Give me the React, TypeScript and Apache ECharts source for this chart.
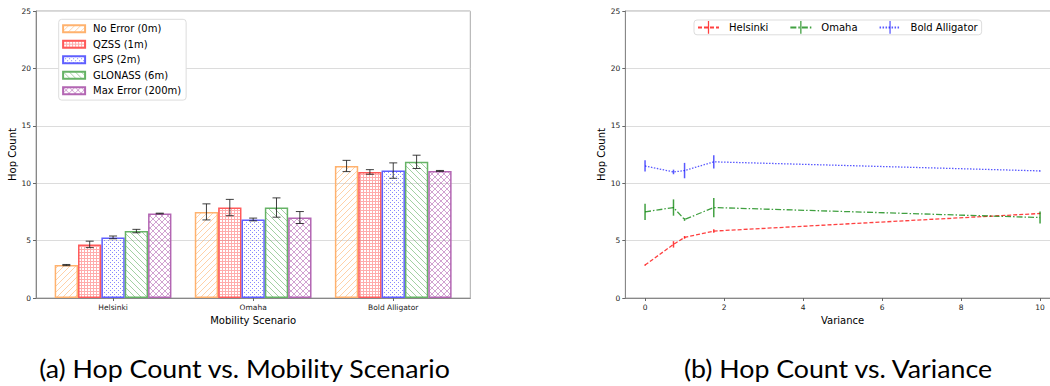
import React, { useEffect, useRef } from 'react';
import * as echarts from 'echarts';

// ---- data ----
const categories = ['Helsinki', 'Omaha', 'Bold Alligator'];
const errorLevels = ['No Error (0m)', 'QZSS (1m)', 'GPS (2m)', 'GLONASS (6m)', 'Max Error (200m)'];
const variance = [0, 0.72, 1, 1.74, 10];

const hopHelsinki = [2.87, 4.67, 5.28, 5.83, 7.36];
const hopOmaha = [7.5, 7.88, 6.84, 7.88, 7.01];
const hopBold = [11.5, 10.98, 11.1, 11.86, 11.07];

const errHelsinki = [0.05, 0.28, 0.12, 0.15, 0.03];
const errOmaha = [0.7, 0.71, 0.12, 0.84, 0.52];
const errBold = [0.49, 0.2, 0.67, 0.58, 0.04];

const yTicks = [0, 5, 10, 15, 20, 25];
const categoryTicks = [0, 1, 2];
const varianceTicks = [0, 2, 4, 6, 8, 10];

const captionA = '(a) Hop Count vs. Mobility Scenario';
const captionB = '(b) Hop Count vs. Variance';

// ---- styles ----
const barColors = ['rgb(255,178,110)', 'rgb(255,90,90)', 'rgb(95,95,255)', 'rgb(102,179,102)', 'rgb(179,102,179)'];
const hatchKinds = ['diagUp', 'grid', 'dots', 'diagDown', 'cross'];
const lineColors = ['rgba(255,0,0,0.75)', 'rgba(0,128,0,0.75)', 'rgba(0,0,255,0.65)'];
const lineDash = [[4, 2], [6, 2, 1.5, 2], [1.5, 1.5]];
const FONT = 'DejaVu Sans';

function makeHatch(kind: string, color: string) {
  const S = kind === 'grid' ? 3 : kind === 'dots' ? 4 : 6;
  const c = document.createElement('canvas');
  c.width = S;
  c.height = S;
  const ctx = c.getContext('2d')!;
  ctx.strokeStyle = color;
  ctx.fillStyle = color;
  ctx.lineWidth = 1;
  ctx.globalAlpha = 0.6;
  const up = () => {
    ctx.beginPath();
    ctx.moveTo(-1, S + 1); ctx.lineTo(S + 1, -1);
    ctx.moveTo(-1, 1); ctx.lineTo(1, -1);
    ctx.moveTo(S - 1, S + 1); ctx.lineTo(S + 1, S - 1);
    ctx.stroke();
  };
  const down = () => {
    ctx.beginPath();
    ctx.moveTo(-1, -1); ctx.lineTo(S + 1, S + 1);
    ctx.moveTo(S - 1, -1); ctx.lineTo(S + 1, 1);
    ctx.moveTo(-1, S - 1); ctx.lineTo(1, S + 1);
    ctx.stroke();
  };
  if (kind === 'diagUp') up();
  else if (kind === 'diagDown') down();
  else if (kind === 'cross') { up(); down(); }
  else if (kind === 'grid') {
    ctx.globalAlpha = 0.5;
    ctx.fillRect(0, 0, S, 1);
    ctx.fillRect(0, 1, 1, S - 1);
  } else if (kind === 'dots') {
    ctx.globalAlpha = 0.75;
    ctx.fillRect(0, 0, 1, 1);
    ctx.fillRect(2, 2, 1, 1);
  }
  return { image: c.toDataURL(), repeat: 'repeat', imageWidth: S, imageHeight: S };
}

const vbarSymbol = 'path://M0,0H0.01V0.01H0Z M4.5,0H5.5V10H4.5Z M9.99,9.99H10V10H9.99Z';

export default function App() {
  const ref = useRef<HTMLDivElement>(null);
  useEffect(() => {
    document.body.style.margin = '0';
    const chart = echarts.init(ref.current!, undefined, { renderer: 'svg' });
    const hops = [hopHelsinki, hopOmaha, hopBold];
    const errs = [errHelsinki, errOmaha, errBold];

    const axisLine = { show: true, onZero: false, lineStyle: { color: '#888', width: 1 } };
    const axisTick = { show: true, length: 3, lineStyle: { color: '#666' } };
    const splitLine = { show: true, lineStyle: { color: '#dcdcdc', width: 1 } };
    const tickLabel = { fontSize: 7.5, color: '#222', fontFamily: FONT, margin: 5 };
    const yAxisBase = {
      type: 'value', min: 0, max: 25, interval: 5,
      axisLine, axisTick, splitLine,
      name: 'Hop Count', nameLocation: 'middle', nameGap: 17,
      nameTextStyle: { fontSize: 10, color: '#000', fontFamily: FONT },
    };

    const barSeries = errorLevels.map((name, i) => ({
      type: 'bar', name, xAxisIndex: 0, yAxisIndex: 0,
      data: categories.map((_, j) => [j, hops[j][i]]),
      barWidth: '16.6667%', barGap: '0%',
      itemStyle: { color: makeHatch(hatchKinds[i], barColors[i]), borderColor: barColors[i], borderWidth: 1.5 },
      emphasis: { disabled: true },
    }));

    const errData: number[][] = [];
    categories.forEach((_, j) => errorLevels.forEach((__, i) => errData.push([j, i, hops[j][i], errs[j][i]])));

    const barErr = {
      type: 'custom', name: 'bar-errors', xAxisIndex: 0, yAxisIndex: 0, z: 5,
      encode: { x: 0, y: 2 },
      data: errData,
      renderItem: (params: any, api: any) => {
        const cat = api.value(0), idx = api.value(1), mean = api.value(2), err = api.value(3);
        const bw = api.size([1 / 6, 0])[0];
        const top = api.coord([cat, mean + err]);
        const bot = api.coord([cat, mean - err]);
        const x = top[0] + (idx - 2) * bw;
        const style = { stroke: 'rgba(30,30,30,0.85)', lineWidth: 1 };
        return {
          type: 'group', children: [
            { type: 'line', shape: { x1: x, y1: top[1], x2: x, y2: bot[1] }, style },
            { type: 'line', shape: { x1: x - 4, y1: top[1], x2: x + 4, y2: top[1] }, style },
            { type: 'line', shape: { x1: x - 4, y1: bot[1], x2: x + 4, y2: bot[1] }, style },
          ],
        };
      },
    };

    const lineSeries: any[] = [];
    const lineErrSeries: any[] = [];
    categories.forEach((name, j) => {
      lineSeries.push({
        type: 'line', name, xAxisIndex: 1, yAxisIndex: 1,
        data: variance.map((v, i) => [v, hops[j][i]]),
        showSymbol: false, symbol: vbarSymbol, symbolSize: 12,
        lineStyle: { color: lineColors[j], width: 1.3, type: lineDash[j] },
        itemStyle: { color: lineColors[j] },
        emphasis: { disabled: true },
      });
      lineErrSeries.push({
        type: 'custom', name: name + '-errors', xAxisIndex: 1, yAxisIndex: 1, z: 5,
        encode: { x: 0, y: 1 },
        data: variance.map((v, i) => [v, hops[j][i], errs[j][i]]),
        renderItem: (params: any, api: any) => {
          const x = api.value(0), mean = api.value(1), err = api.value(2);
          const top = api.coord([x, mean + err]);
          const bot = api.coord([x, mean - err]);
          return {
            type: 'line',
            shape: { x1: top[0], y1: top[1], x2: bot[0], y2: bot[1] },
            style: { stroke: lineColors[j], lineWidth: 1.5 },
          };
        },
      });
    });

    const captionStyle = { fontSize: 25, fontFamily: 'Lato', fill: '#000', align: 'center', verticalAlign: 'middle' };

    chart.setOption({
      animation: false,
      textStyle: { fontFamily: FONT },
      grid: [
        { left: 36, top: 11, width: 434.3, height: 287, show: true, borderColor: '#aaa', borderWidth: 1, outerBoundsMode: 'none', containLabel: false },
        { left: 625.3, top: 11, width: 434.5, height: 287, show: true, borderColor: '#aaa', borderWidth: 1, outerBoundsMode: 'none', containLabel: false },
      ],
      xAxis: [
        {
          type: 'value', gridIndex: 0, min: -0.55, max: 2.55,
          axisLine, splitLine: { show: false },
          axisTick: { ...axisTick, customValues: categoryTicks },
          axisLabel: { ...tickLabel, customValues: categoryTicks, formatter: (v: number) => categories[Math.round(v)] ?? '' },
          name: 'Mobility Scenario', nameLocation: 'middle', nameGap: 11,
          nameTextStyle: { fontSize: 10, color: '#000', fontFamily: FONT },
        },
        {
          type: 'value', gridIndex: 1, min: -0.5, max: 10.5,
          axisLine, splitLine: { show: false },
          axisTick: { ...axisTick, customValues: varianceTicks },
          axisLabel: { ...tickLabel, customValues: varianceTicks },
          name: 'Variance', nameLocation: 'middle', nameGap: 11,
          nameTextStyle: { fontSize: 10, color: '#000', fontFamily: FONT },
        },
      ],
      yAxis: [
        { ...yAxisBase, gridIndex: 0, axisLabel: { ...tickLabel, customValues: yTicks } },
        { ...yAxisBase, gridIndex: 1, axisLabel: { ...tickLabel, customValues: yTicks } },
      ],
      legend: [
        {
          data: errorLevels, orient: 'vertical', left: 58.7, top: 19.3,
          icon: 'rect', itemWidth: 22, itemHeight: 7, itemGap: 3.5,
          padding: [3.4, 5, 3.4, 3.4],
          backgroundColor: '#fff', borderColor: '#ddd', borderWidth: 1, borderRadius: 3,
          textStyle: { fontSize: 10, color: '#000', fontFamily: FONT, lineHeight: 12, padding: [0, 0, 0, 3] },
          selectedMode: false,
        },
        {
          data: categories, orient: 'horizontal', left: 694, top: 20,
          itemWidth: 21, itemHeight: 16, itemGap: 21,
          padding: [1, 4, 1, 3],
          backgroundColor: '#fff', borderColor: '#ddd', borderWidth: 1, borderRadius: 3,
          textStyle: { fontSize: 10, color: '#000', fontFamily: FONT, lineHeight: 12, padding: [0, 0, 0, 5] },
          selectedMode: false,
        },
      ],
      graphic: [
        { type: 'text', x: 244.5, y: 368, scaleX: 1.07, style: { text: captionA, ...captionStyle } },
        { type: 'text', x: 838, y: 368, scaleX: 1.07, style: { text: captionB, ...captionStyle } },
      ],
      series: [...barSeries, barErr, ...lineSeries, ...lineErrSeries],
    });
    return () => chart.dispose();
  }, []);
  return <div ref={ref} style={{ width: 1050, height: 386 }} />;
}
